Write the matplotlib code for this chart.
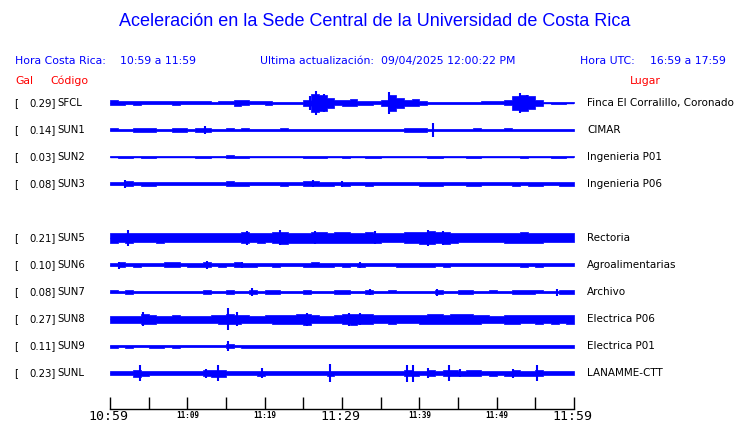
import numpy as np
import matplotlib
matplotlib.use("Agg")
import matplotlib.pyplot as plt
from matplotlib.transforms import blended_transform_factory

# ---------------- data ----------------
codes = ["SFCL", "SUN1", "SUN2", "SUN3", "SUN5", "SUN6", "SUN7", "SUN8", "SUN9", "SUNL"]
gal = ["0.29", "0.14", "0.03", "0.08", "0.21", "0.10", "0.08", "0.27", "0.11", "0.23"]
places = ["Finca El Corralillo, Coronado", "CIMAR", "Ingenieria P01", "Ingenieria P06",
          "Rectoria", "Agroalimentarias", "Archivo", "Electrica P06", "Electrica P01",
          "LANAMME-CTT"]
slots = [0, 1, 2, 3, 5, 6, 7, 8, 9, 10]

# per-minute amplitude envelope (minutes 0..59 after 10:59)
env_SFCL = [2.5, 2, 1.5, 2, 1.5, 1.5, 1.5, 1.5, 2, 1.5, 1.5, 1.5, 1.5, 1, 1.5, 1.5, 3, 2.5, 1.5, 1.5,
            2, 1, 1, 1, 0.8, 3, 9, 8, 5, 2.5, 3, 3.5, 2, 2, 1.5, 3, 8, 5, 3, 3.5,
            2, 1, 1.2, 1, 1, 1, 1.2, 1.2, 1.5, 1.5, 1.5, 2.5, 7, 8, 6.5, 3, 0.5, 1.2, 0.8, 0.5]
env_SUN1 = [1.5, 1.3, 0.8, 1.7, 1.8, 1.7, 1, 1.3, 1.7, 1.7, 1.2, 1.7, 1.7, 1.2, 1.2, 1.5, 1.2, 1.5, 1.2, 1.2,
            1.2, 1.2, 1.5, 1.2, 1, 1.2, 1, 1, 1, 1.2, 1.2, 1, 1, 1.2, 1, 1, 1, 1.2, 1.8, 2,
            1.7, 1.2, 1.2, 1.2, 1.2, 1.2, 1.2, 1.5, 1.2, 1.2, 1.2, 1.5, 1.2, 1.2, 1.2, 1.2, 1, 1.2, 1, 1]
env_SUN2 = [0.5, 1.2, 1.2, 0.5, 1.2, 0.8, 0.5, 0.5, 0.5, 0.5, 0.5, 1, 1, 0.5, 0.5, 1.5, 0.8, 0.8, 0.5, 0.5,
            0.5, 0.5, 0.5, 0.5, 0.5, 0.8, 1.2, 1.2, 0.5, 0.5, 1.2, 0.5, 0.5, 1, 1, 0.5, 0.5, 0.5, 0.5, 0.5,
            0.5, 1, 0.8, 0.5, 0.5, 0.5, 1.2, 1.2, 0.5, 0.5, 0.5, 0.5, 0.5, 0.8, 0.5, 0.5, 0.5, 1, 0.8, 0.5]
env_SUN3 = [1.5, 1.5, 2.5, 1.5, 2, 2, 1.5, 1.5, 1.5, 1.5, 1.5, 1.5, 1.5, 1.5, 1.5, 2.5, 1.8, 2, 1.5, 1.5,
            1.5, 1.5, 2, 1.5, 1.5, 2.5, 2.5, 2, 2.2, 1.5, 2, 1.5, 1.5, 2, 1.5, 1.5, 1.5, 1.5, 1.5, 1.5,
            2, 2, 2, 1.5, 1.5, 1.5, 2.2, 2, 1.5, 1.5, 1.5, 1.5, 2, 1.5, 1.8, 2, 1.5, 1.5, 1.8, 2.2]
env_SUN5 = [5, 4.5, 5, 4.5, 4.5, 4.5, 5, 4.5, 4.5, 4.5, 4.5, 4.5, 4.5, 4.5, 4.5, 4.5, 4.5, 5.5, 4.5, 5,
            4.5, 5.5, 6, 5, 5, 5, 5.5, 5.5, 5, 5.5, 5.5, 5, 5, 5.5, 5, 4.5, 4.5, 4.5, 5.5, 5.5,
            6, 6.5, 5.5, 6, 5, 4.5, 4.5, 4.5, 4.5, 4.5, 4.5, 5, 5, 5.5, 5, 5, 4.5, 4.5, 4.5, 4.5]
env_SUN6 = [1.5, 2.5, 1.5, 2, 1.5, 1.5, 1.5, 2.5, 2.5, 1.5, 1.8, 2, 2.5, 1.5, 1.8, 1.5, 2.5, 2, 1.8, 1.5,
            1.5, 1.8, 1.5, 1.5, 1.5, 1.8, 2.5, 2, 2, 1.5, 2, 1.5, 2, 1.5, 1.5, 1.5, 1.5, 1.8, 2, 2,
            1.8, 2, 1.5, 1.8, 1.5, 1.5, 1.5, 1.5, 1.5, 1.5, 1.5, 1.5, 1.5, 1.8, 1.5, 1.8, 1.5, 1.5, 1.5, 1.5]
env_SUN7 = [1.5, 1.3, 2, 1.3, 1.3, 1.3, 1.3, 1.3, 1.3, 1.3, 1.3, 1.3, 2, 1.3, 1.3, 2, 1.3, 1.3, 2, 1.3,
            2, 2, 1.3, 1.3, 1.3, 1.8, 1.3, 1.3, 1.3, 2, 2, 1.3, 1.3, 2, 1.3, 1.3, 1.5, 1.3, 1.3, 1.3,
            1.3, 1.3, 2, 1.3, 1.3, 1.8, 1.8, 1.3, 1.3, 1.5, 1.3, 1.3, 1.8, 2, 2, 1.5, 1.3, 1.3, 2, 1.8]
env_SUN8 = [3.5, 3.5, 3.5, 3.5, 5, 4.5, 3.5, 3.5, 4, 3.5, 3.5, 3.5, 3.5, 4, 4.5, 5, 4.5, 4, 3.5, 3.5,
            4, 4.5, 4.5, 4.5, 5, 5.5, 4, 3.5, 3.5, 4, 5, 5.5, 5, 5, 4, 4, 4.5, 4, 4, 4,
            4.5, 5, 5, 4.5, 5, 5, 5, 4.5, 4, 3.5, 3.5, 4.5, 4.5, 4, 4, 4.5, 4, 4.5, 4, 4.5]
env_SUN9 = [1.5, 1.2, 1.5, 1.2, 1.2, 1.5, 1.5, 1.2, 1.5, 1.2, 1, 1.2, 1.2, 1.2, 1.2, 1.8, 1.2, 1.5, 1.5, 1.5,
            1.5, 1.5, 1.5, 1.5, 1.5, 1.5, 1.5, 1.5, 1.5, 1.5, 1.5, 1.5, 1.5, 1.5, 1.5, 1.5, 1.5, 1.5, 1.5, 1.5,
            1.5, 1.5, 1.5, 1.5, 1.5, 1.5, 1.5, 1.5, 1.5, 1.5, 1.5, 1.5, 1.5, 1.5, 1.5, 1.5, 1.5, 1.5, 1.5, 1.5]
env_SUNL = [1.7, 1.7, 2, 3.5, 2.5, 1.7, 1.7, 1.7, 1.7, 1.7, 1.7, 1.7, 3, 3.5, 3.5, 1.7, 1.7, 1.7, 1.7, 2.5,
            1.7, 1.7, 1.7, 1.7, 1.7, 1.7, 1.7, 2, 2.5, 1.7, 1.7, 2, 1.7, 1.7, 1.7, 1.7, 1.7, 2, 3, 2.5,
            2, 3, 2, 3, 3, 2.5, 3, 3, 2, 2.5, 1.7, 2.5, 3, 2.5, 2.5, 3, 1.7, 2, 1.7, 1.7]
envelopes = [env_SFCL, env_SUN1, env_SUN2, env_SUN3, env_SUN5, env_SUN6, env_SUN7, env_SUN8, env_SUN9, env_SUNL]

# isolated peaks: (minute, amplitude)
spikes = {
    "SFCL": [(25.9, 7), (26.6, 12), (27.7, 9), (36.1, 11), (36.9, 7), (53.0, 10), (53.9, 8)],
    "SUN1": [(12.3, 4), (41.8, 7)],
    "SUN2": [],
    "SUN3": [(1.9, 4), (26.3, 3.5), (30.0, 3)],
    "SUN5": [(2.3, 8), (17.7, 7), (22.0, 7.5), (26.5, 6.5), (34.3, 6.5), (41.1, 8), (43.1, 7)],
    "SUN6": [(1.2, 3.5), (12.5, 4), (17.1, 3), (32.3, 3)],
    "SUN7": [(18.4, 4), (33.6, 3), (42.3, 3.5), (57.8, 3.5)],
    "SUN8": [(4.3, 7), (15.3, 11), (16.4, 7), (25.5, 6.5), (30.9, 6.5), (32.3, 6)],
    "SUN9": [(15.3, 5)],
    "SUNL": [(3.9, 8), (12.4, 4.5), (14.0, 8), (19.7, 5), (28.4, 9), (38.4, 8.5), (39.2, 8.5),
             (41.1, 5), (43.8, 8), (45.3, 4), (52.1, 4.5), (55.2, 8)],
}

tick_minutes = list(range(0, 61, 5))
label_minutes = [0, 10, 20, 30, 40, 50, 60]
label_texts = ["10:59", "11:09", "11:19", "11:29", "11:39", "11:49", "11:59"]
big_labels = [0, 30, 60]

# ---------------- figure ----------------
W, H = 740, 423
fig = plt.figure(figsize=(W / 100, H / 100), dpi=100)
BLUE = "#0000ff"
RED = "#ff0000"

def fx(px):
    return px / W

def fy(py):
    return 1 - py / H

ax_left, ax_right, ax_top, ax_bot = 110, 574, 85, 409
ax = fig.add_axes([fx(ax_left), fy(ax_bot), (ax_right - ax_left) / W, (ax_bot - ax_top) / H])
ax.set_xlim(0, 60)
ax.set_ylim(306, -18)
row_gap = 27

edges = np.arange(61)
for code, env, slot in zip(codes, envelopes, slots):
    c = slot * row_gap
    e = np.array(env + [env[-1]], dtype=float)
    ax.fill_between(edges, c - e, c + e, step="post", facecolor=BLUE,
                    edgecolor=BLUE, lw=0.5)
    ax.hlines(c, 0, 60, color=BLUE, lw=1.0)
    sp = spikes[code]
    if sp:
        t = [s[0] for s in sp]
        a = np.array([s[1] for s in sp])
        ax.vlines(t, c - a, c + a, color=BLUE, lw=1.5)

for s in ["top", "left", "right"]:
    ax.spines[s].set_visible(False)
ax.spines["bottom"].set_color("black")
ax.spines["bottom"].set_linewidth(1.0)
ax.set_yticks([])
ax.set_xticks(tick_minutes)
ax.set_xticklabels([])
ax.tick_params(axis="x", direction="in", length=9, width=1, color="black")

trans = blended_transform_factory(ax.transData, fig.transFigure)
for m, lab in zip(label_minutes, label_texts):
    if m in big_labels:
        ax.text(m - 0.2, fy(416), lab, transform=trans, ha="center", va="center",
                fontsize=9.5, family="DejaVu Sans Mono", color="black")
    else:
        ax.text(m, fy(415), lab, transform=trans, ha="center", va="center",
                fontsize=5.5, family="DejaVu Sans Mono", fontweight="bold", color="black")

# ---------------- header texts ----------------
fig.text(fx(375), fy(22), "Aceleración en la Sede Central de la Universidad de Costa Rica",
         ha="center", va="center", fontsize=13.0, family="Liberation Sans", color=BLUE)
hdr = dict(va="center", fontsize=7.8, family="DejaVu Sans", color=BLUE)
fig.text(fx(15), fy(61), "Hora Costa Rica:", ha="left", **hdr)
fig.text(fx(120), fy(61), "10:59 a 11:59", ha="left", **hdr)
fig.text(fx(260), fy(61), "Ultima actualización:  09/04/2025 12:00:22 PM", ha="left", **hdr)
fig.text(fx(580), fy(61), "Hora UTC:", ha="left", **hdr)
fig.text(fx(650), fy(61), "16:59 a 17:59", ha="left", **hdr)
red = dict(va="center", fontsize=7.8, family="DejaVu Sans", color=RED)
fig.text(fx(15), fy(81), "Gal", ha="left", **red)
fig.text(fx(50), fy(81), "Código", ha="left", **red)
fig.text(fx(630), fy(81), "Lugar", ha="left", **red)

# ---------------- row labels ----------------
lab = dict(va="center", fontsize=7.3, family="DejaVu Sans", color="black")
for g, code, place, slot in zip(gal, codes, places, slots):
    py = 103 + slot * row_gap
    fig.text(fx(14), fy(py), "[", ha="left", **lab)
    fig.text(fx(55.5), fy(py), g + "]", ha="right", **lab)
    fig.text(fx(57.5), fy(py), code, ha="left", **lab)
    fig.text(fx(587), fy(py), place, ha="left", va="center", fontsize=7.5,
             family="DejaVu Sans", color="black")

fig.savefig("out.png", dpi=100)
